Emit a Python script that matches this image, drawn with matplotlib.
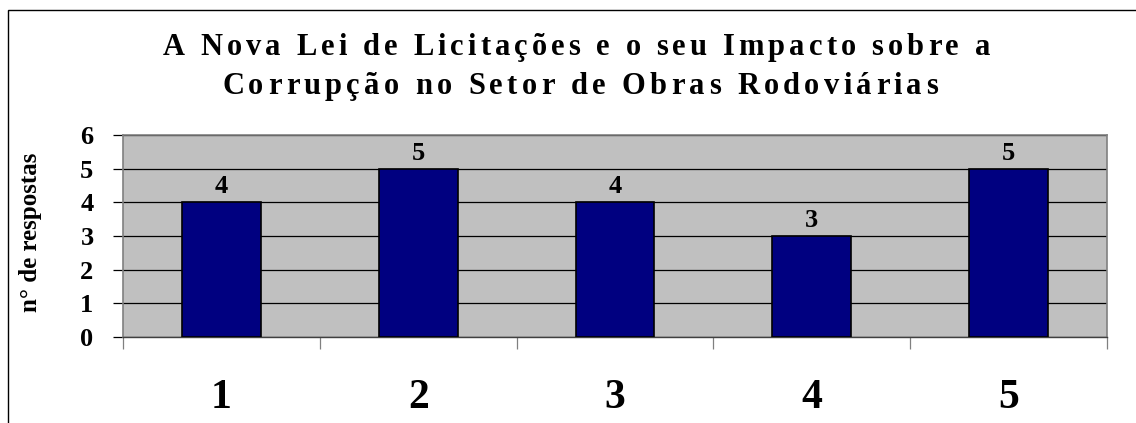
import matplotlib
matplotlib.use('Agg')
import matplotlib.pyplot as plt
import matplotlib.patches as patches
from matplotlib.font_manager import FontProperties
import numpy as np

# =============================================================================
# Data
# =============================================================================

categories = ['1', '2', '3', '4', '5']
values = [4, 5, 4, 3, 5]
title_lines = ['A Nova Lei de Licitações e o seu Impacto sobre a',
               'Corrupção no Setor de Obras Rodoviárias']
ylabel = 'n° de respostas'
yticks = [0, 1, 2, 3, 4, 5, 6]

# =============================================================================
# Figure
# =============================================================================

W, H = 1136, 423
fig = plt.figure(figsize=(W / 100, H / 100), dpi=100)
serif = 'Liberation Serif'

# outer chart frame (only left and top visible)
fig.patches.append(patches.Rectangle((8 / W, -0.05), 1.1, 1 - 10 / H + 0.05,
                                     transform=fig.transFigure, fill=False,
                                     ec='black', lw=1))

ax = fig.add_axes([123 / W, (H - 337) / H, 984 / W, 202 / H])
ax.set_facecolor('#C0C0C0')

x = np.arange(len(categories))
bars = ax.bar(x, values, width=0.4, color='#000080', edgecolor='black', lw=1.2, zorder=3)
for xi, v in zip(x, values):
    ax.annotate(str(v), (xi, v), xytext=(0, 3), textcoords='offset points',
                ha='center', va='bottom', fontsize=19, fontweight='bold', family=serif)

ax.set_xlim(-0.5, len(categories) - 0.5)
ax.set_ylim(0, 6)
ax.set_yticks(yticks)
ax.set_yticklabels([str(t) for t in yticks], fontsize=19, fontweight='bold', family=serif)
ax.yaxis.grid(True, color='black', lw=0.9)
ax.set_axisbelow(True)
ax.tick_params(axis='y', length=7.2, width=0.9, color='black', pad=14)

ax.set_xticks(x)
ax.set_xticklabels(categories, fontsize=30, fontweight='bold', family=serif)
ax.set_xticks(np.arange(-0.5, len(categories)), minor=True)
ax.tick_params(axis='x', which='major', length=0, pad=30)
ax.tick_params(axis='x', which='minor', length=8.6, width=0.9, color='#808080')

for s in ['top', 'right', 'left']:
    ax.spines[s].set_color('#808080')
    ax.spines[s].set_linewidth(1.2)
ax.spines['bottom'].set_color('#404040')
ax.spines['bottom'].set_linewidth(1)

ax.set_ylabel(ylabel, fontsize=18, fontweight='bold', family=serif, va='center')
ax.yaxis.set_label_coords(-0.0935, 0.52)

# =============================================================================
# Letter-spaced title
# =============================================================================

fp = FontProperties(family=serif, weight='bold', size=22)
renderer = fig.canvas.get_renderer()

def text_w(s):
    return renderer.get_text_width_height_descent(s, fp, ismath=False)[0]

def spaced_line(line, x0, x1, ybase):
    base = text_w('xx')
    widths = [text_w('x' + c + 'x') - base for c in line]
    track = (x1 - x0 - sum(widths)) / (len(line) - 1)
    xp = x0
    for c, w in zip(line, widths):
        if c != ' ':
            fig.text(xp / W, 1 - ybase / H, c, fontproperties=fp,
                     ha='left', va='baseline')
        xp += w + track

spaced_line(title_lines[0], 163, 990, 55)
spaced_line(title_lines[1], 222, 938, 94)

plt.savefig('out.png', dpi=100)
